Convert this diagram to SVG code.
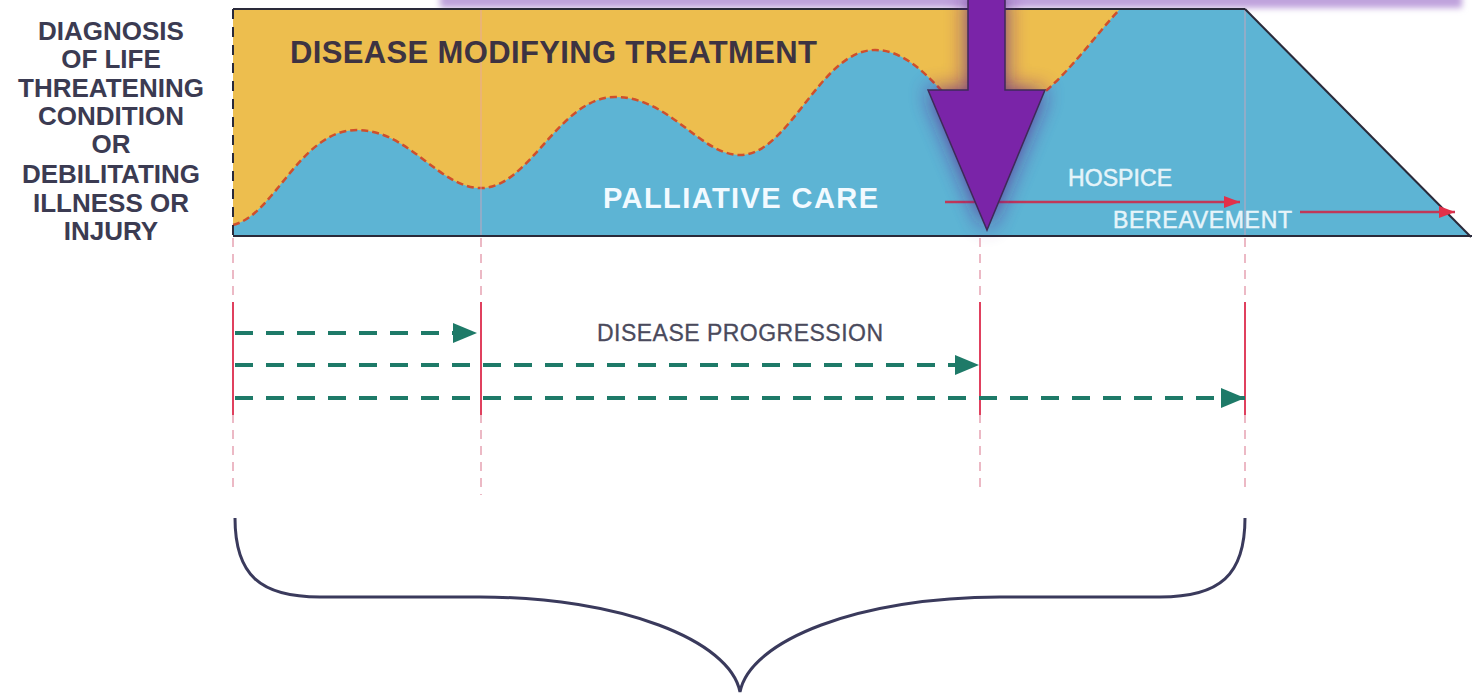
<svg xmlns="http://www.w3.org/2000/svg" width="1472" height="697" viewBox="0 0 1472 697">
<style>
.lbl{font-family:"Liberation Sans",Arial,sans-serif;font-weight:bold;fill:#3B3B52;font-size:26px;text-anchor:middle}
.vdash{stroke:#E6A3B3;stroke-width:1.5;stroke-dasharray:9 7;fill:none}
.vsolid{stroke:#E0405E;stroke-width:2;fill:none}
.prog{stroke:#1E7A68;stroke-width:4;stroke-dasharray:18 13;fill:none}
.red{stroke:#C03858;stroke-width:2.5;fill:none}
.care{font-family:"Liberation Sans",Arial,sans-serif;font-size:23px;fill:#E6F4FA;stroke:#E6F4FA;stroke-width:0.5}
</style>
<defs>
<marker id="g" markerWidth="24" markerHeight="20" refX="24" refY="10" orient="auto" markerUnits="userSpaceOnUse">
<path d="M0,0 L24,10 L0,20 Z" fill="#1E7A68"/>
</marker>
<marker id="r" markerWidth="16" markerHeight="12" refX="16" refY="6" orient="auto" markerUnits="userSpaceOnUse">
<path d="M0,0 L16,6 L0,12 Z" fill="#E2304A"/>
</marker>
<filter id="blur" x="-50%" y="-50%" width="200%" height="200%"><feGaussianBlur stdDeviation="11"/></filter>
<filter id="blur2" x="-10%" y="-100%" width="120%" height="300%"><feGaussianBlur stdDeviation="3"/></filter>
</defs>
<rect width="1472" height="697" fill="#FFFFFF"/>
<g id="topbar">
<rect x="440" y="-30" width="1022" height="38" fill="#BFA2DC" filter="url(#blur2)"/>
</g>
<g id="chart">
<rect x="233" y="9" width="1012" height="227" fill="#EDBE4E"/>
<path d="M233,236 L233,225 C275,215 300,130 357,130 C410,130 440,190 483,188 C530,186 560,97 615,97 C670,97 700,155 740,155 C790,155 820,50 875,50 C910,50 935,85 960,110 C985,135 1010,120 1047,90 C1075,65 1100,30 1120,9 L1245,9 L1470,236 Z" fill="#5DB4D4"/>
<path d="M233,225 C275,215 300,130 357,130 C410,130 440,190 483,188 C530,186 560,97 615,97 C670,97 700,155 740,155 C790,155 820,50 875,50 C910,50 935,85 960,110 C985,135 1010,120 1047,90 C1075,65 1100,30 1120,9" fill="none" stroke="#CF4F2C" stroke-width="2.5" stroke-dasharray="7 4"/>
<line x1="481" y1="9" x2="481" y2="236" stroke="#E6A3B3" stroke-width="1.5" opacity="0.5"/>
<line x1="1245" y1="9" x2="1245" y2="236" stroke="#E6A3B3" stroke-width="1.5" opacity="0.5"/>
<line x1="233" y1="9" x2="1245" y2="9" stroke="#2A2A3A" stroke-width="2"/>
<line x1="1245" y1="9" x2="1471" y2="237" stroke="#2A2A3A" stroke-width="2"/>
<line x1="233" y1="236" x2="1472" y2="236" stroke="#2A2A3A" stroke-width="2"/>
<line x1="233" y1="9" x2="233" y2="236" stroke="#2A2A3A" stroke-width="2" stroke-dasharray="10 8"/>
<text x="290" y="63" font-family="Liberation Sans, Arial, sans-serif" font-weight="bold" font-size="31" fill="#3D3342" textLength="527">DISEASE MODIFYING TREATMENT</text>
<text x="603" y="208" font-family="Liberation Sans, Arial, sans-serif" font-weight="bold" font-size="29" fill="#F2FAFF" textLength="275">PALLIATIVE CARE</text>
<text class="care" x="1068" y="186" textLength="104">HOSPICE</text>
<text class="care" x="1113" y="228" textLength="179">BEREAVEMENT</text>
</g>
<g id="arrows-care">
<line x1="945" y1="202" x2="1240" y2="202" class="red" marker-end="url(#r)"/>
<line x1="1300" y1="212" x2="1455" y2="212" class="red" marker-end="url(#r)"/>
</g>
<g id="bigarrow">
<path d="M968,-5 L1005,-5 L1005,90 L1045,90 L987,230 L928,90 L968,90 Z" fill="#5E1A8E" opacity="0.85" filter="url(#blur)"/>
<path d="M968,-5 L1005,-5 L1005,90 L1045,90 L987,230 L928,90 L968,90 Z" fill="#7A24A8" stroke="#3E2A58" stroke-width="1.5"/>
</g>
<g id="left-label">
<text class="lbl" x="111" y="40">DIAGNOSIS</text>
<text class="lbl" x="111" y="68">OF LIFE</text>
<text class="lbl" x="111" y="97">THREATENING</text>
<text class="lbl" x="111" y="125">CONDITION</text>
<text class="lbl" x="111" y="153">OR</text>
<text class="lbl" x="111" y="183">DEBILITATING</text>
<text class="lbl" x="111" y="212">ILLNESS OR</text>
<text class="lbl" x="111" y="240">INJURY</text>
</g>
<g id="connectors">
<line class="vdash" x1="233" y1="238" x2="233" y2="492"/>
<line class="vdash" x1="481" y1="238" x2="481" y2="495"/>
<line class="vdash" x1="980" y1="238" x2="980" y2="492"/>
<line class="vdash" x1="1245" y1="238" x2="1245" y2="492"/>
<line class="vsolid" x1="233" y1="302" x2="233" y2="415"/>
<line class="vsolid" x1="481" y1="302" x2="481" y2="415"/>
<line class="vsolid" x1="980" y1="302" x2="980" y2="415"/>
<line class="vsolid" x1="1245" y1="302" x2="1245" y2="415"/>
<line class="prog" x1="235" y1="333" x2="477" y2="333" marker-end="url(#g)"/>
<line class="prog" x1="235" y1="365" x2="979" y2="365" marker-end="url(#g)"/>
<line class="prog" x1="235" y1="398" x2="1245" y2="398" marker-end="url(#g)"/>
</g>
<g id="progression-label">
<text x="597" y="341" font-family="Liberation Sans, Arial, sans-serif" font-size="23" fill="#4A4A5C" stroke="#4A4A5C" stroke-width="0.3" textLength="286">DISEASE PROGRESSION</text>
</g>
<g id="brace">
<path d="M235,518 C235,575 260,597 320,597 L480,597 C620,597 730,640 740,692 C750,640 860,597 1000,597 L1160,597 C1220,597 1245,575 1245,518" fill="none" stroke="#3A3A5C" stroke-width="3"/>
</g>
</svg>
